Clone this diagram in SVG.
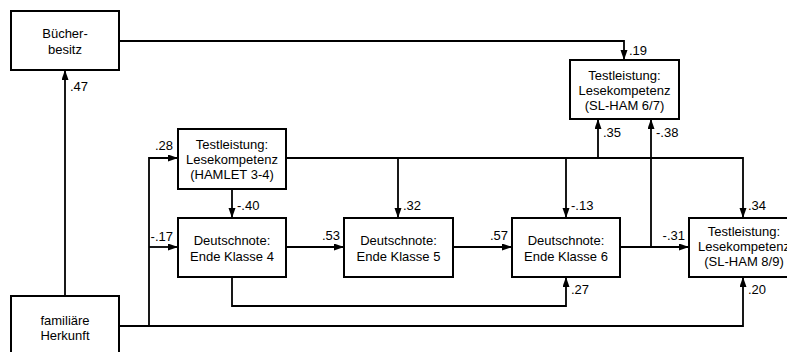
<svg xmlns="http://www.w3.org/2000/svg" width="787" height="352" viewBox="0 0 787 352">
<style>
.box{fill:#fff;stroke:#000;stroke-width:2}
.t{font-family:"Liberation Sans",Arial,sans-serif;font-size:13px;fill:#000;text-anchor:middle}
.l{font-family:"Liberation Sans",Arial,sans-serif;font-size:13px;fill:#000}
.e{text-anchor:end}
.c{fill:none;stroke:#000;stroke-width:1.8}
.a{marker-end:url(#ah)}
</style>
<defs>
<marker id="ah" markerUnits="userSpaceOnUse" markerWidth="11" markerHeight="8" refX="10" refY="3.5" orient="auto">
<path d="M0,0 L10,3.5 L0,7 z" fill="#000"/>
</marker>
</defs>
<rect width="787" height="352" fill="#fff"/>
<g id="connectors">
<path class="c a" d="M65,296 V70"/>
<path class="c a" d="M119,41 H624 V60"/>
<path class="c a" d="M119,326 H743 V277"/>
<path class="c a" d="M149,326 V158 H178"/>
<path class="c a" d="M149,247 H178"/>
<path class="c a" d="M232,189 V218"/>
<path class="c a" d="M286,158 H743 V218"/>
<path class="c a" d="M398,158 V218"/>
<path class="c a" d="M566,158 V218"/>
<path class="c a" d="M598,158 V119"/>
<path class="c a" d="M286,247 H344"/>
<path class="c a" d="M453,247 H512"/>
<path class="c a" d="M620,247 H689"/>
<path class="c a" d="M651,247 V119"/>
<path class="c a" d="M232,277 V306 H566 V277"/>
<text class="l" x="70" y="91">.47</text>
<text class="l" x="629" y="55">.19</text>
<text class="l" x="748" y="294">.20</text>
<text class="l e" x="173" y="150">.28</text>
<text class="l e" x="173" y="241">-.17</text>
<text class="l" x="237" y="210">-.40</text>
<text class="l" x="748" y="210">.34</text>
<text class="l" x="403" y="210">.32</text>
<text class="l" x="571" y="210">-.13</text>
<text class="l" x="603" y="137">.35</text>
<text class="l" x="656" y="137">-.38</text>
<text class="l e" x="340" y="240">.53</text>
<text class="l e" x="508" y="240">.57</text>
<text class="l e" x="685" y="240">-.31</text>
<text class="l" x="571" y="294">.27</text>
</g>
<g id="buecherbesitz">
<rect class="box" x="11" y="11" width="108" height="59"/>
<text class="t" x="65" y="38">Bücher-</text>
<text class="t" x="65" y="54">besitz</text>
</g>
<g id="familiaere_herkunft">
<rect class="box" x="11" y="296" width="108" height="62"/>
<text class="t" x="65" y="325">familiäre</text>
<text class="t" x="65" y="340">Herkunft</text>
</g>
<g id="hamlet">
<rect class="box" x="178" y="129" width="108" height="60"/>
<text class="t" x="232" y="149">Testleistung:</text>
<text class="t" x="232" y="164">Lesekompetenz</text>
<text class="t" x="232" y="179">(HAMLET 3-4)</text>
</g>
<g id="slham67">
<rect class="box" x="570" y="60" width="109" height="59"/>
<text class="t" x="624.5" y="80">Testleistung:</text>
<text class="t" x="624.5" y="95">Lesekompetenz</text>
<text class="t" x="624.5" y="110">(SL-HAM 6/7)</text>
</g>
<g id="dn4">
<rect class="box" x="178" y="218" width="108" height="59"/>
<text class="t" x="232" y="245">Deutschnote:</text>
<text class="t" x="232" y="261">Ende Klasse 4</text>
</g>
<g id="dn5">
<rect class="box" x="344" y="218" width="109" height="59"/>
<text class="t" x="398.5" y="245">Deutschnote:</text>
<text class="t" x="398.5" y="261">Ende Klasse 5</text>
</g>
<g id="dn6">
<rect class="box" x="512" y="218" width="108" height="59"/>
<text class="t" x="566" y="245">Deutschnote:</text>
<text class="t" x="566" y="261">Ende Klasse 6</text>
</g>
<g id="slham89">
<rect class="box" x="689" y="218" width="110" height="59"/>
<text class="t" x="744" y="236">Testleistung:</text>
<text class="t" x="744" y="251">Lesekompetenz</text>
<text class="t" x="744" y="266">(SL-HAM 8/9)</text>
</g>
</svg>
